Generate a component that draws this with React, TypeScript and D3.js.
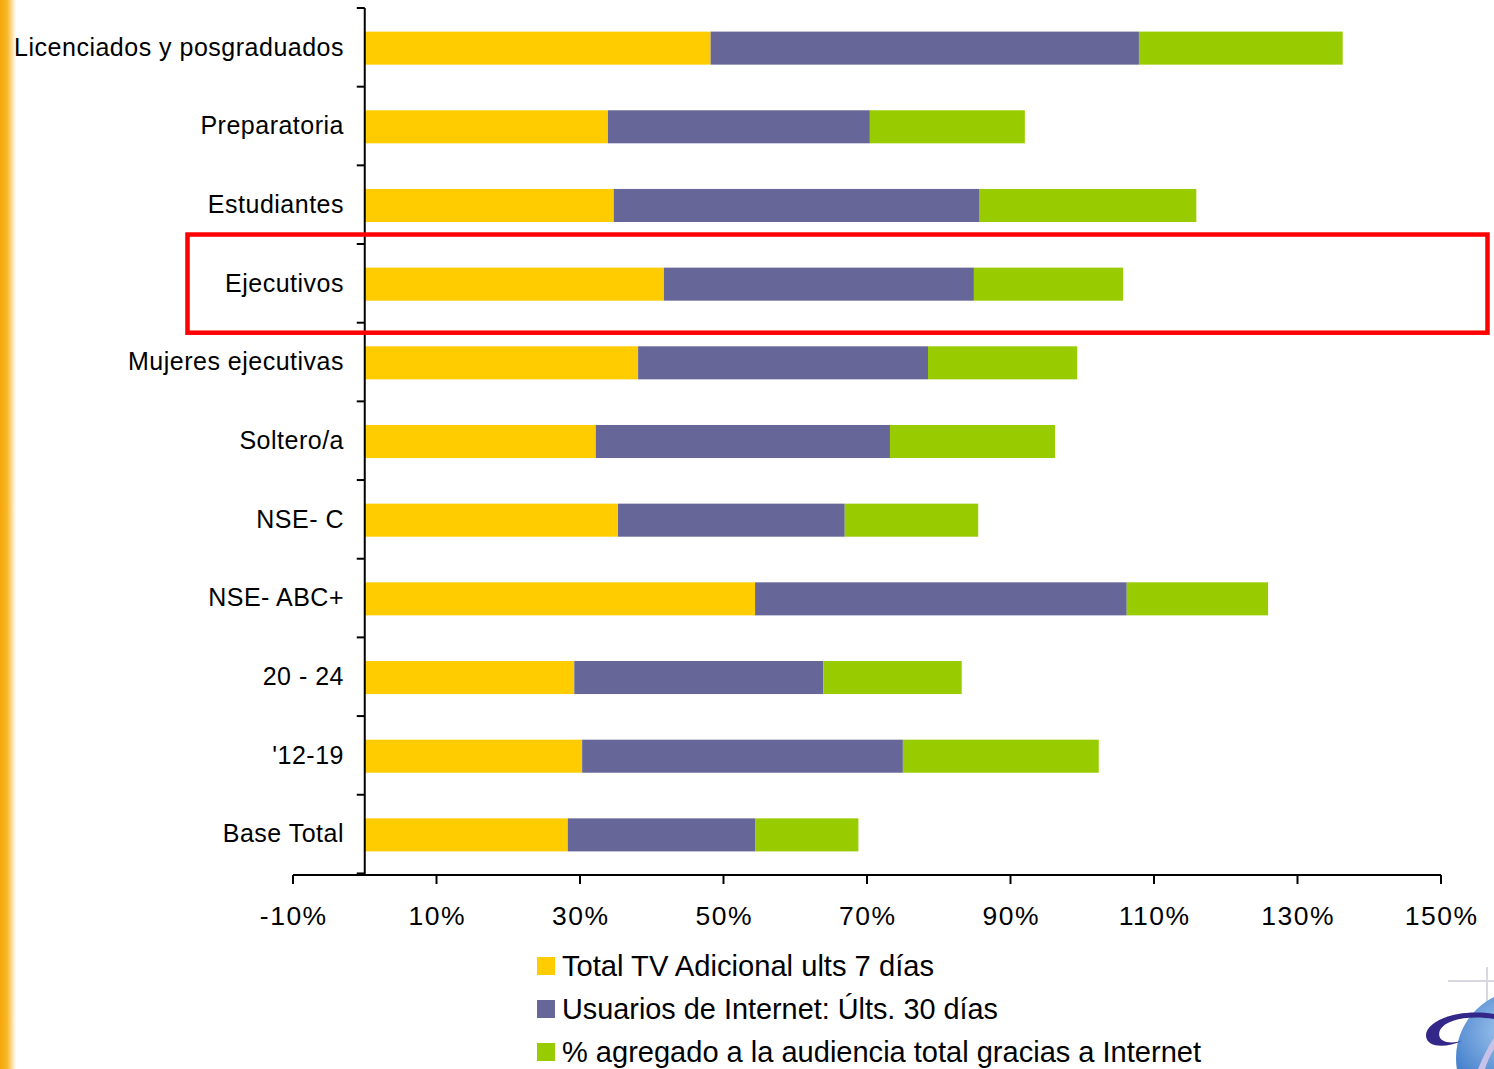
import React from "react";
import * as d3 from "d3";

const categories = [
  "Licenciados y posgraduados",
  "Preparatoria",
  "Estudiantes",
  "Ejecutivos",
  "Mujeres ejecutivas",
  "Soltero/a",
  "NSE- C",
  "NSE- ABC+",
  "20 - 24",
  "'12-19",
  "Base Total",
];

const tvValues = [48.2, 33.9, 34.7, 41.7, 38.1, 32.2, 35.3, 54.4, 29.2, 30.3, 28.3];
const internetValues = [59.7, 36.5, 51.0, 43.2, 40.4, 41.0, 31.6, 51.8, 34.7, 44.7, 26.1];
const addedValues = [28.4, 21.6, 30.2, 20.8, 20.8, 23.0, 18.6, 19.7, 19.3, 27.3, 14.4];

const seriesNames = [
  "Total TV Adicional ults 7 días",
  "Usuarios de Internet: Últs. 30 días",
  "% agregado a la audiencia total gracias a Internet",
];
const seriesColors = ["#FFCC00", "#666699", "#99CC00"];

const xTicks = [-10, 10, 30, 50, 70, 90, 110, 130, 150];
const highlighted = "Ejecutivos";

const W = 1494;
const H = 1069;
const FONT = "'Liberation Sans', Arial, sans-serif";

export default function App() {
  const x = d3.scaleLinear().domain([-10, 150]).range([293, 1441]);
  const y = d3
    .scaleBand<string>()
    .domain(categories)
    .range([8, 875])
    .paddingInner(0.58)
    .paddingOuter(0.3);
  const step = y.step();
  const x0 = x(0);
  const axisY = 875;

  const rows = categories.map((c, i) => [tvValues[i], internetValues[i], addedValues[i]]);
  const stack = d3
    .stack<number[]>()
    .keys([0, 1, 2] as any)
    .value((d, k) => d[k as any]);
  const layers = stack(rows as any);

  const boundaries = d3.range(categories.length + 1).map((i) => 8 + i * step);
  const hiIdx = categories.indexOf(highlighted);
  const legendTextLen = [372, 436, 639];

  // highlight frame spans the selected category's band, slightly enlarged
  const frameTop = boundaries[hiIdx] - 9.5;
  const frameBottom = boundaries[hiIdx + 1] + 10;

  return (
    <svg
      width={W}
      height={H}
      style={{ position: "absolute", left: 0, top: 0, background: "#fff" }}
      fontFamily={FONT}
    >
      <defs>
        <linearGradient id="edge" x1="0" x2="1" y1="0" y2="0">
          <stop offset="0" stopColor="#F5A60A" />
          <stop offset="0.45" stopColor="#F8B82A" />
          <stop offset="1" stopColor="#FFFFFF" />
        </linearGradient>
        <radialGradient id="globe" cx="0.35" cy="0.3" r="0.8">
          <stop offset="0" stopColor="#9EC3EC" />
          <stop offset="0.5" stopColor="#4C86CF" />
          <stop offset="1" stopColor="#1D4E9C" />
        </radialGradient>
      </defs>

      {/* left decorative stripe */}
      <rect x={0} y={0} width={16} height={H} fill="url(#edge)" />

      {/* stacked bars */}
      {layers.map((layer, si) => (
        <g key={si} fill={seriesColors[si]}>
          {layer.map((d, i) => (
            <rect
              key={i}
              x={x(d[0])}
              y={y(categories[i])}
              width={x(d[1]) - x(d[0])}
              height={y.bandwidth()}
            />
          ))}
        </g>
      ))}

      {/* y axis */}
      <line x1={x0} x2={x0} y1={8} y2={axisY} stroke="#000" strokeWidth={2} />
      {boundaries.map((b, i) => (
        <line key={i} x1={x0 - 8} x2={x0} y1={b} y2={b} stroke="#000" strokeWidth={2} />
      ))}
      {categories.map((c) => (
        <text
          key={c}
          x={344}
          y={y(c)! + y.bandwidth() / 2 - 1.5}
          textAnchor="end"
          dominantBaseline="central"
          fontSize={25}
          letterSpacing={0.5}
          fill="#000"
        >
          {c}
        </text>
      ))}

      {/* x axis */}
      <line x1={x(-10)} x2={x(150)} y1={axisY} y2={axisY} stroke="#000" strokeWidth={2} />
      {xTicks.map((t) => (
        <g key={t}>
          <line x1={x(t)} x2={x(t)} y1={axisY} y2={axisY + 9} stroke="#000" strokeWidth={2} />
          <text
            x={x(t) + 0.75}
            y={925}
            textAnchor="middle"
            fontSize={26.5}
            letterSpacing={1.5}
            fill="#000"
          >
            {t + "%"}
          </text>
        </g>
      ))}

      {/* highlight frame */}
      <rect
        x={187.5}
        y={frameTop}
        width={1487.5 - 187.5}
        height={frameBottom - frameTop}
        fill="none"
        stroke="#FF0000"
        strokeWidth={4.5}
      />

      {/* legend */}
      {seriesNames.map((n, i) => {
        const cy = 966 + i * 43;
        return (
          <g key={n}>
            <rect x={537} y={cy - 9} width={18} height={18} fill={seriesColors[i]} />
            <text
              x={562}
              y={cy + 10}
              fontSize={29}
              fill="#000"
              textLength={legendTextLen[i]}
              lengthAdjust="spacingAndGlyphs"
            >
              {n}
            </text>
          </g>
        );
      })}

      {/* corner logo */}
      <g>
        <line x1={1448} x2={W} y1={981} y2={981} stroke="#D8D8E0" strokeWidth={2} />
        <line x1={1487} x2={1487} y1={967} y2={H} stroke="#D8D8E0" strokeWidth={2} />
        <circle cx={1524} cy={1058} r={68} fill="url(#globe)" />
        <path
          d="M1494,1014 C1455,1008 1425,1022 1426,1036 C1427,1048 1446,1048 1462,1041 C1446,1045 1436,1040 1440,1030 C1446,1019 1470,1015 1494,1019 Z"
          fill="#33288A"
        />
        <path
          d="M1478,1069 C1484,1055 1489,1045 1494,1038 L1494,1049 C1490,1056 1487,1062 1485,1069 Z"
          fill="#C9C2E8"
        />
      </g>
    </svg>
  );
}
